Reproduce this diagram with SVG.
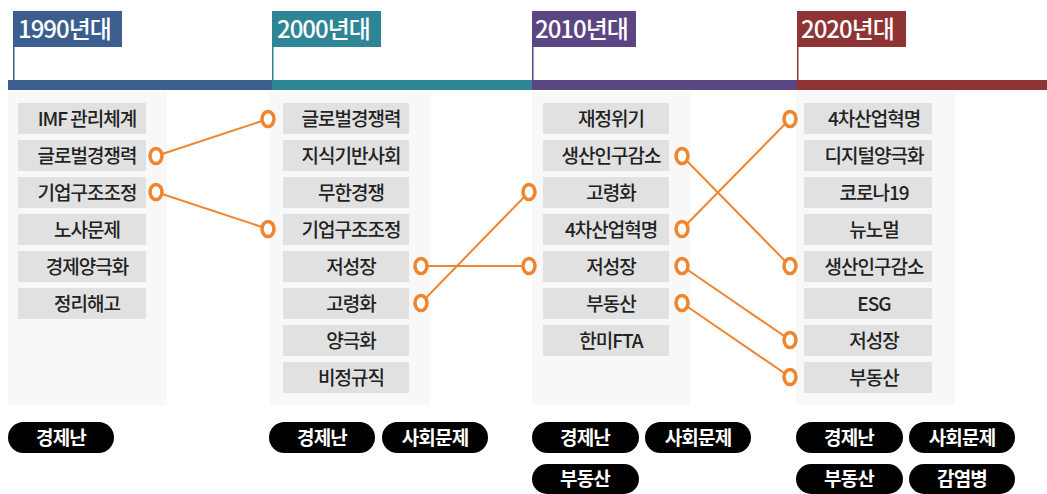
<svg xmlns="http://www.w3.org/2000/svg" width="1047" height="494" viewBox="0 0 1047 494">
<style>
.panel{fill:#f8f8f8}
.box{fill:#e1e1e1}
.bt{font-family:"Noto Sans CJK KR","Noto Sans",sans-serif;font-size:19px;font-weight:500;fill:#222;text-anchor:middle;letter-spacing:-1px}
.ht{font-family:"Noto Sans CJK KR","Noto Sans",sans-serif;font-size:24px;font-weight:500;fill:#fff;letter-spacing:-1px}
.pill{fill:#000}
.pt{font-family:"Noto Sans CJK KR","Noto Sans",sans-serif;font-size:19px;font-weight:bold;fill:#fff;text-anchor:middle;letter-spacing:-0.8px}
.con line{stroke:#f0842f;stroke-width:2}
.dot{fill:#fff;stroke:#f0842f;stroke-width:3.5}
</style>

<!-- timeline -->
<g id="timeline">
<rect x="8" y="80" width="264" height="10" fill="#3b5e8e"/>
<rect x="272" y="80" width="260" height="10" fill="#2e8595"/>
<rect x="532" y="80" width="265" height="10" fill="#5a4682"/>
<rect x="797" y="80" width="250" height="10" fill="#8e3434"/>
</g>

<g id="h1990">
<rect x="13" y="11" width="109" height="36" fill="#3b5e8e"/>
<rect x="13" y="47" width="1.5" height="33" fill="#3b5e8e"/>
<text class="ht" x="18" y="38">1990년대</text>
</g>
<g id="h2000">
<rect x="272" y="11" width="109" height="36" fill="#2e8595"/>
<rect x="272" y="47" width="1.5" height="33" fill="#2e8595"/>
<text class="ht" x="277" y="38">2000년대</text>
</g>
<g id="h2010">
<rect x="532" y="11" width="104" height="36" fill="#5a4682"/>
<rect x="532" y="47" width="1.5" height="33" fill="#5a4682"/>
<text class="ht" x="535" y="38">2010년대</text>
</g>
<g id="h2020">
<rect x="797" y="11" width="109" height="36" fill="#8e3434"/>
<rect x="797" y="47" width="1.5" height="33" fill="#8e3434"/>
<text class="ht" x="801" y="38">2020년대</text>
</g>

<!-- panels -->
<rect class="panel" x="8" y="92" width="159" height="313"/>
<rect class="panel" x="270" y="92" width="160" height="313"/>
<rect class="panel" x="532" y="92" width="158" height="313"/>
<rect class="panel" x="796" y="92" width="159" height="313"/>

<!-- 1990 column -->
<g id="c1990">
<g id="n90-1"><rect class="box" x="18" y="103" width="128" height="31"/><text class="bt" x="87" y="125.5">IMF 관리체계</text></g>
<g id="n90-2"><rect class="box" x="18" y="140" width="128" height="31"/><text class="bt" x="87" y="162.5">글로벌경쟁력</text></g>
<g id="n90-3"><rect class="box" x="18" y="177" width="128" height="31"/><text class="bt" x="87" y="199.5">기업구조조정</text></g>
<g id="n90-4"><rect class="box" x="18" y="214" width="128" height="31"/><text class="bt" x="87" y="236.5">노사문제</text></g>
<g id="n90-5"><rect class="box" x="18" y="251" width="128" height="31"/><text class="bt" x="87" y="273.5">경제양극화</text></g>
<g id="n90-6"><rect class="box" x="18" y="288" width="128" height="31"/><text class="bt" x="87" y="310.5">정리해고</text></g>
</g>

<!-- 2000 column -->
<g id="c2000">
<g id="n00-1"><rect class="box" x="283" y="103" width="126" height="31"/><text class="bt" x="351" y="125.5">글로벌경쟁력</text></g>
<g id="n00-2"><rect class="box" x="283" y="140" width="126" height="31"/><text class="bt" x="351" y="162.5">지식기반사회</text></g>
<g id="n00-3"><rect class="box" x="283" y="177" width="126" height="31"/><text class="bt" x="351" y="199.5">무한경쟁</text></g>
<g id="n00-4"><rect class="box" x="283" y="214" width="126" height="31"/><text class="bt" x="351" y="236.5">기업구조조정</text></g>
<g id="n00-5"><rect class="box" x="283" y="251" width="126" height="31"/><text class="bt" x="351" y="273.5">저성장</text></g>
<g id="n00-6"><rect class="box" x="283" y="288" width="126" height="31"/><text class="bt" x="351" y="310.5">고령화</text></g>
<g id="n00-7"><rect class="box" x="283" y="325" width="126" height="31"/><text class="bt" x="351" y="347.5">양극화</text></g>
<g id="n00-8"><rect class="box" x="283" y="362" width="126" height="31"/><text class="bt" x="351" y="384.5">비정규직</text></g>
</g>

<!-- 2010 column -->
<g id="c2010">
<g id="n10-1"><rect class="box" x="543" y="103" width="126" height="31"/><text class="bt" x="611" y="125.5">재정위기</text></g>
<g id="n10-2"><rect class="box" x="543" y="140" width="126" height="31"/><text class="bt" x="611" y="162.5">생산인구감소</text></g>
<g id="n10-3"><rect class="box" x="543" y="177" width="126" height="31"/><text class="bt" x="611" y="199.5">고령화</text></g>
<g id="n10-4"><rect class="box" x="543" y="214" width="126" height="31"/><text class="bt" x="611" y="236.5">4차산업혁명</text></g>
<g id="n10-5"><rect class="box" x="543" y="251" width="126" height="31"/><text class="bt" x="611" y="273.5">저성장</text></g>
<g id="n10-6"><rect class="box" x="543" y="288" width="126" height="31"/><text class="bt" x="611" y="310.5">부동산</text></g>
<g id="n10-7"><rect class="box" x="543" y="325" width="126" height="31"/><text class="bt" x="611" y="347.5">한미FTA</text></g>
</g>

<!-- 2020 column -->
<g id="c2020">
<g id="n20-1"><rect class="box" x="804" y="103" width="128" height="31"/><text class="bt" x="874" y="125.5">4차산업혁명</text></g>
<g id="n20-2"><rect class="box" x="804" y="140" width="128" height="31"/><text class="bt" x="874" y="162.5">디지털양극화</text></g>
<g id="n20-3"><rect class="box" x="804" y="177" width="128" height="31"/><text class="bt" x="874" y="199.5">코로나19</text></g>
<g id="n20-4"><rect class="box" x="804" y="214" width="128" height="31"/><text class="bt" x="874" y="236.5">뉴노멀</text></g>
<g id="n20-5"><rect class="box" x="804" y="251" width="128" height="31"/><text class="bt" x="874" y="273.5">생산인구감소</text></g>
<g id="n20-6"><rect class="box" x="804" y="288" width="128" height="31"/><text class="bt" x="874" y="310.5">ESG</text></g>
<g id="n20-7"><rect class="box" x="804" y="325" width="128" height="31"/><text class="bt" x="874" y="347.5">저성장</text></g>
<g id="n20-8"><rect class="box" x="804" y="362" width="128" height="31"/><text class="bt" x="874" y="384.5">부동산</text></g>
</g>

<!-- connectors -->
<g id="connectors" class="con">
<line x1="156" y1="156" x2="268" y2="119"/>
<line x1="156" y1="192" x2="268" y2="229"/>
<line x1="421" y1="266" x2="529" y2="266"/>
<line x1="421" y1="303" x2="529" y2="192"/>
<line x1="682" y1="156" x2="790" y2="266"/>
<line x1="682" y1="229" x2="790" y2="119"/>
<line x1="682" y1="266" x2="790" y2="340"/>
<line x1="682" y1="303" x2="790" y2="377"/>
<ellipse class="dot" cx="156" cy="156" rx="6" ry="7.5"/>
<ellipse class="dot" cx="156" cy="192" rx="6" ry="7.5"/>
<ellipse class="dot" cx="268" cy="119" rx="6" ry="7.5"/>
<ellipse class="dot" cx="268" cy="229" rx="6" ry="7.5"/>
<ellipse class="dot" cx="421" cy="266" rx="6" ry="7.5"/>
<ellipse class="dot" cx="421" cy="303" rx="6" ry="7.5"/>
<ellipse class="dot" cx="529" cy="266" rx="6" ry="7.5"/>
<ellipse class="dot" cx="529" cy="192" rx="6" ry="7.5"/>
<ellipse class="dot" cx="682" cy="156" rx="6" ry="7.5"/>
<ellipse class="dot" cx="682" cy="229" rx="6" ry="7.5"/>
<ellipse class="dot" cx="682" cy="266" rx="6" ry="7.5"/>
<ellipse class="dot" cx="682" cy="303" rx="6" ry="7.5"/>
<ellipse class="dot" cx="790" cy="119" rx="6" ry="7.5"/>
<ellipse class="dot" cx="790" cy="266" rx="6" ry="7.5"/>
<ellipse class="dot" cx="790" cy="340" rx="6" ry="7.5"/>
<ellipse class="dot" cx="790" cy="377" rx="6" ry="7.5"/>
</g>

<!-- tags -->
<g id="tags1990">
<rect class="pill" x="8" y="422" width="106" height="31" rx="15.5"/><text class="pt" x="61" y="444.5">경제난</text>
</g>
<g id="tags2000">
<rect class="pill" x="269" y="422" width="106" height="31" rx="15.5"/><text class="pt" x="322" y="444.5">경제난</text>
<rect class="pill" x="382" y="422" width="106" height="31" rx="15.5"/><text class="pt" x="435" y="444.5">사회문제</text>
</g>
<g id="tags2010">
<rect class="pill" x="532" y="422" width="107" height="31" rx="15.5"/><text class="pt" x="585" y="444.5">경제난</text>
<rect class="pill" x="645" y="422" width="106" height="31" rx="15.5"/><text class="pt" x="698" y="444.5">사회문제</text>
<rect class="pill" x="532" y="464" width="107" height="30" rx="15"/><text class="pt" x="585" y="486">부동산</text>
</g>
<g id="tags2020">
<rect class="pill" x="796" y="422" width="107" height="31" rx="15.5"/><text class="pt" x="849" y="444.5">경제난</text>
<rect class="pill" x="909" y="422" width="106" height="31" rx="15.5"/><text class="pt" x="962" y="444.5">사회문제</text>
<rect class="pill" x="796" y="464" width="107" height="30" rx="15"/><text class="pt" x="849" y="486">부동산</text>
<rect class="pill" x="909" y="464" width="106" height="30" rx="15"/><text class="pt" x="962" y="486">감염병</text>
</g>
</svg>
